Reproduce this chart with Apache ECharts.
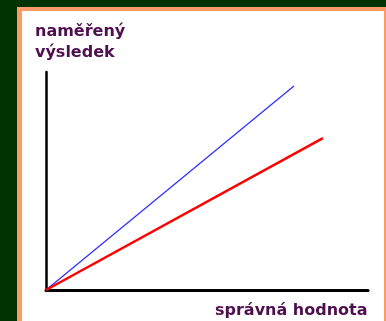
<!DOCTYPE html>
<html>
<head>
<meta charset="utf-8">
<script src="https://cdn.jsdelivr.net/npm/echarts@6/dist/echarts.min.js"></script>
<style>html,body{margin:0;padding:0;background:#003300;}#c{width:386px;height:321px;}</style>
</head>
<body>
<div id="c"></div>
<script>
// Data (axis units 0..100)
const blueX = [0, 77];
const blueY = [0, 93.6];
const redX = [0, 86];
const redY = [0, 69.7];
const yLabelLines = ['naměřený', 'výsledek'];
const xLabel = 'správná hodnota';

const chart = echarts.init(document.getElementById('c'), null, {renderer: 'canvas'});
const font = 'bold 16px "DejaVu Sans"';
const textColor = '#4d0f4d';
chart.setOption({
  backgroundColor: '#003300',
  animation: false,
  graphic: [
    {type: 'rect', z: -10, shape: {x: 17, y: 7, width: 380, height: 330}, style: {fill: '#ff9966'}},
    {type: 'rect', z: -9, shape: {x: 22, y: 11, width: 362, height: 330}, style: {fill: '#ffffff'}},
    {type: 'text', x: 35, y: 31.5, style: {text: yLabelLines[0], font: font, fill: textColor, verticalAlign: 'middle'}},
    {type: 'text', x: 35, y: 53, style: {text: yLabelLines[1], font: font, fill: textColor, verticalAlign: 'middle'}},
    {type: 'text', x: 215, y: 311, style: {text: xLabel, font: font, fill: textColor, verticalAlign: 'middle'}}
  ],
  grid: {left: 46, top: 72, right: 18, bottom: 31, containLabel: false},
  xAxis: {
    type: 'value', min: 0, max: 100,
    axisLine: {show: true, onZero: false, lineStyle: {color: '#000', width: 3}},
    axisTick: {show: false}, axisLabel: {show: false}, splitLine: {show: false}
  },
  yAxis: {
    type: 'value', min: 0, max: 100,
    axisLine: {show: true, onZero: false, lineStyle: {color: '#000', width: 2.5}},
    axisTick: {show: false}, axisLabel: {show: false}, splitLine: {show: false}
  },
  series: [
    {type: 'line', data: blueX.map((x, i) => [x, blueY[i]]), symbol: 'none', lineStyle: {color: '#3030ff', width: 1.3}, z: 3},
    {type: 'line', data: redX.map((x, i) => [x, redY[i]]), symbol: 'none', lineStyle: {color: '#ff0000', width: 2.5}, z: 4}
  ]
});
</script>
</body>
</html>
